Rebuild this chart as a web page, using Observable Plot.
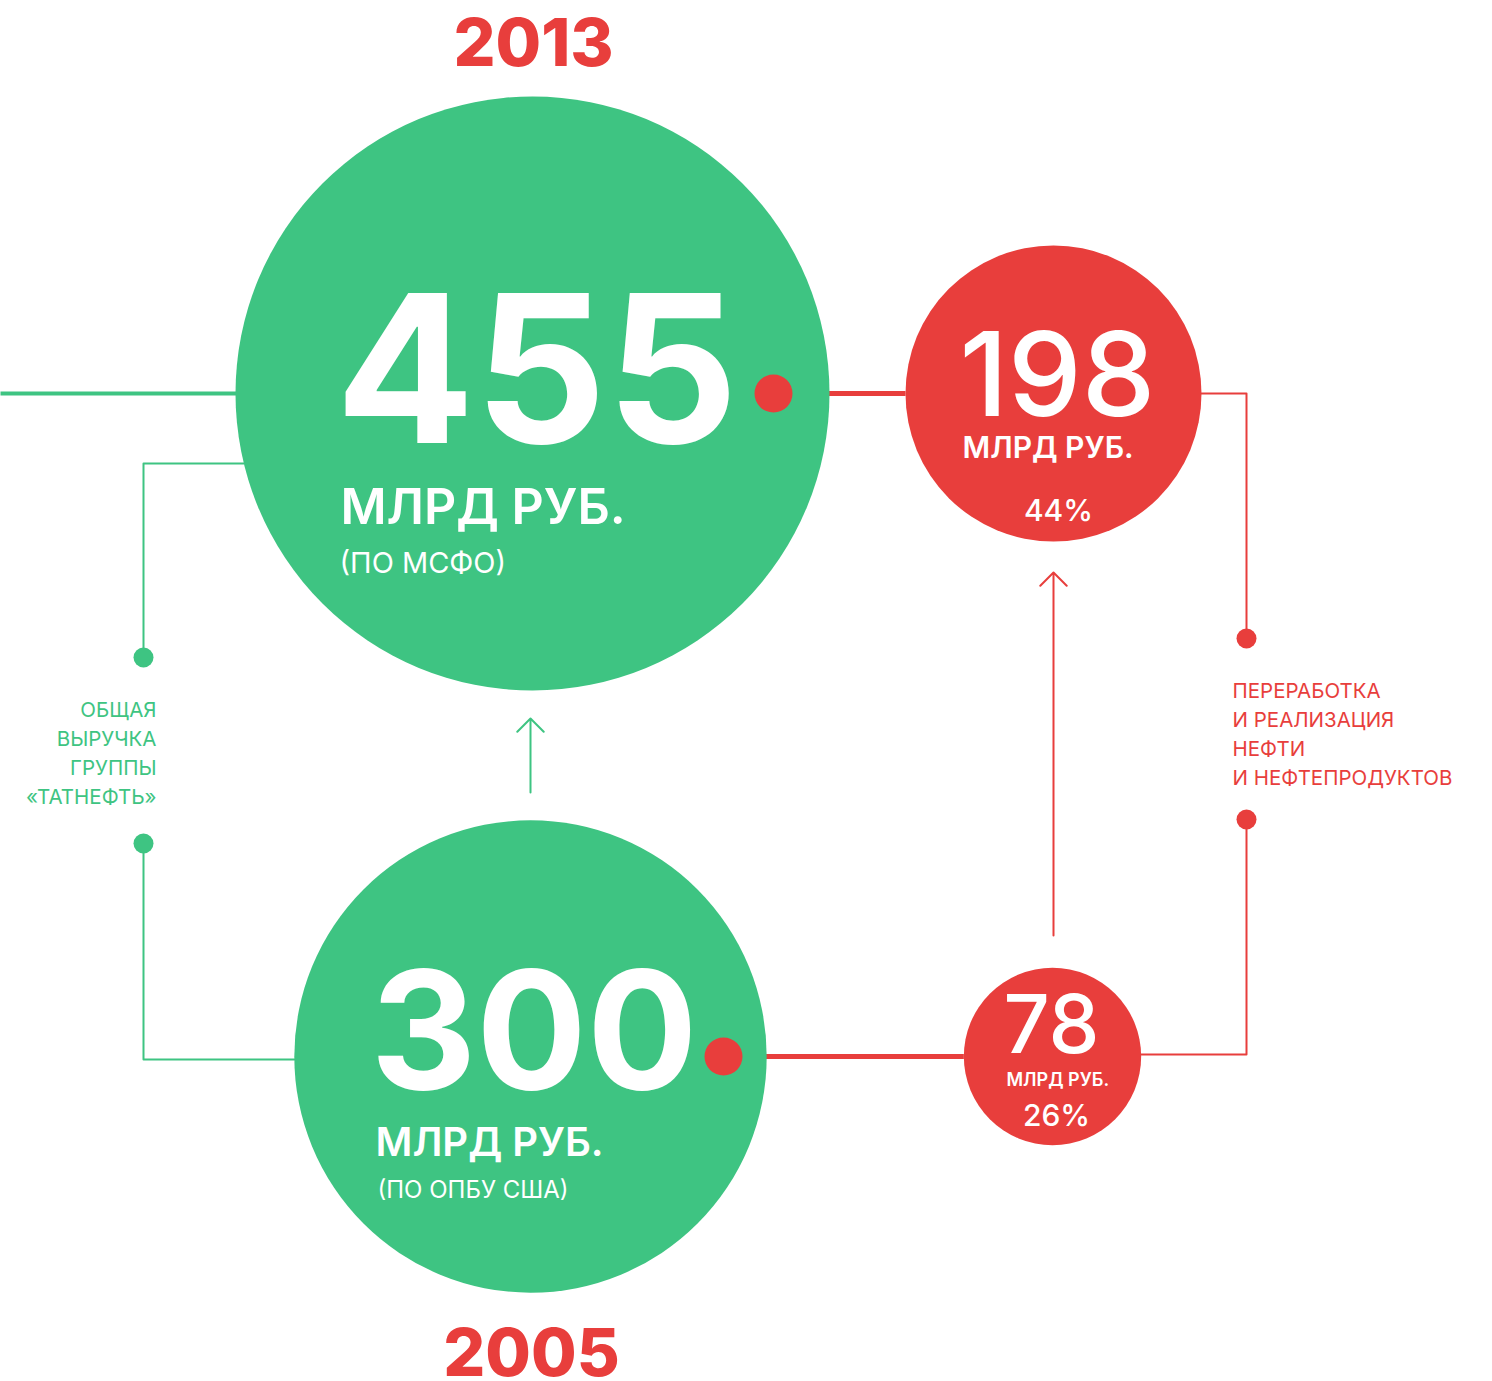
<!DOCTYPE html>
<html><head><meta charset="utf-8">
<script src="https://cdn.jsdelivr.net/npm/d3@7"></script>
<script src="https://cdn.jsdelivr.net/npm/@observablehq/plot@0.6"></script>
<style>
body{margin:0;background:#fff;}
#chart svg{display:block;}
</style></head>
<body><div id="chart"></div>
<script>
// ---- data ----
const years = ["2013", "2005"];
const totalRevenue = [455, 300];            // млрд руб.
const refiningRevenue = [198, 78];          // млрд руб.
const refiningShare = ["44%", "26%"];
const standards = ["(ПО МСФО)", "(ПО ОПБУ США)"];
const unitLabel = "МЛРД РУБ.";
const greenLabel = ["ОБЩАЯ", "ВЫРУЧКА", "ГРУППЫ", "«ТАТНЕФТЬ»"];
const redLabel = ["ПЕРЕРАБОТКА", "И РЕАЛИЗАЦИЯ", "НЕФТИ", "И НЕФТЕПРОДУКТОВ"];

// ---- layout (pixel frame) ----
const W = 1492, H = 1381;
const GREEN = "#3ec482", RED = "#e83e3c";
const FONT = "Inter, 'Liberation Sans', sans-serif";
const layout = {
  rowY: [393, 1056],      // 2013 row, 2005 row
  greenX: [532, 530],
  redX: [1053, 1052],
  yearY: [65, 1375],
  dotDx: [241, 193]
};
const rGreen = d3.scalePow().exponent(0.55).domain([0, 455]).range([0, 297]);
const rRed = d3.scalePow().exponent(0.55).domain([0, 198]).range([0, 148]);

const green = totalRevenue.map((v, i) => ({v, year: years[i], x: layout.greenX[i], y: layout.rowY[i], r: rGreen(v)}));
const red = refiningRevenue.map((v, i) => ({v, share: refiningShare[i], x: layout.redX[i], y: layout.rowY[i], r: rRed(v)}));

const g0 = green[0], g1 = green[1], r0 = red[0], r1 = red[1];
const edgeX = (c, y, side) => c.x + side * Math.sqrt(c.r * c.r - (y - c.y) ** 2);

// connectors
const bx = 143, rx = 1246;
const greenTop = [{x: edgeX(g0, 463, -1), y: 463}, {x: bx, y: 463}, {x: bx, y: 657}];
const greenBot = [{x: bx, y: 843}, {x: bx, y: 1059}, {x: edgeX(g1, 1059, -1), y: 1059}];
const redTop = [{x: r0.x + r0.r, y: r0.y}, {x: rx, y: r0.y}, {x: rx, y: 638}];
const redBot = [{x: rx, y: 819}, {x: rx, y: 1054}, {x: r1.x + r1.r, y: 1054}];
const smallDots = [
  {x: bx, y: 657, c: GREEN}, {x: bx, y: 843, c: GREEN},
  {x: rx, y: 638, c: RED}, {x: rx, y: 819, c: RED}
];
const bigDots = green.map((g, i) => ({x: g.x + layout.dotDx[i], y: g.y}));
const redLinks = green.map((g, i) => ({x1: g.x + layout.dotDx[i], x2: red[i].x - red[i].r, y: g.y}));

const chart = Plot.plot({
  width: W, height: H,
  margin: 0,
  x: {domain: [0, W], range: [0, W], axis: null},
  y: {domain: [0, H], range: [0, H], axis: null},
  r: {type: "identity"},
  marks: [
    Plot.link([g0], {x1: 0, x2: d => d.x, y1: d => d.y, y2: d => d.y, stroke: GREEN, strokeWidth: 4}),
    Plot.link(redLinks, {x1: "x1", x2: "x2", y1: "y", y2: "y", stroke: RED, strokeWidth: 5}),
    Plot.line(greenTop, {x: "x", y: "y", stroke: GREEN, strokeWidth: 2}),
    Plot.line(greenBot, {x: "x", y: "y", stroke: GREEN, strokeWidth: 2}),
    Plot.line(redTop, {x: "x", y: "y", stroke: RED, strokeWidth: 2}),
    Plot.line(redBot, {x: "x", y: "y", stroke: RED, strokeWidth: 2}),
    Plot.dot(green, {x: "x", y: "y", r: "r", fill: GREEN}),
    Plot.dot(red, {x: "x", y: "y", r: "r", fill: RED}),
    Plot.dot(bigDots, {x: "x", y: "y", r: 19, fill: RED}),
    Plot.dot(smallDots, {x: "x", y: "y", r: 10, fill: "c"}),
    Plot.arrow([{x: g1.x, y1: 792, y2: 718}], {x: "x", y1: "y1", y2: "y2", stroke: GREEN, strokeWidth: 2, headLength: 14, headAngle: 90}),
    Plot.arrow([{x: r0.x, y1: 935, y2: 572}], {x: "x", y1: "y1", y2: "y2", stroke: RED, strokeWidth: 2, headLength: 14, headAngle: 90}),
    // years
    Plot.text(green, {x: d => d.x + 1, y: (d, i) => layout.yearY[i], text: "year", fill: RED, fontSize: 66, fontWeight: 800, fontFamily: FONT, lineAnchor: "bottom", textAnchor: "middle", letterSpacing: "0.01em"}),
    // green circle texts
    Plot.text(green, {x: (d, i) => d.x - [197, 160][i], y: (d, i) => [442, 1088][i], text: d => String(d.v), fill: "white", fontSize: (d, i) => [206, 164][i], fontWeight: 700, fontFamily: FONT, lineAnchor: "bottom", textAnchor: "start", letterSpacing: (d, i) => ["-0.035em", "-0.1em"][i]}),
    Plot.text(green, {x: (d, i) => d.x - [192, 155][i], y: (d, i) => [523, 1155][i], text: () => unitLabel, fill: "white", fontSize: (d, i) => [50, 40][i], fontWeight: 600, fontFamily: FONT, lineAnchor: "bottom", textAnchor: "start", letterSpacing: "-0.078em"}),
    Plot.text(green, {x: (d, i) => d.x - [193, 153][i], y: (d, i) => [572, 1197][i], text: (d, i) => standards[i], fill: "white", fontSize: (d, i) => [29, 24][i], fontWeight: 400, fontFamily: FONT, lineAnchor: "bottom", textAnchor: "start", letterSpacing: "-0.01em"}),
    // red circle texts
    Plot.text(red, {x: (d, i) => d.x + [4, -1][i], y: (d, i) => [415, 1052][i], text: d => String(d.v), fill: "white", fontSize: (d, i) => [117, 81][i], fontWeight: 500, fontFamily: FONT, lineAnchor: "bottom", textAnchor: "middle", letterSpacing: "-0.05em"}),
    Plot.text(red, {x: (d, i) => d.x - [91, 46][i], y: (d, i) => [457, 1085][i], text: () => unitLabel, fill: "white", fontSize: (d, i) => [30, 18][i], fontWeight: 600, fontFamily: FONT, lineAnchor: "bottom", textAnchor: "start", letterSpacing: "-0.085em"}),
    Plot.text(red, {x: (d, i) => d.x + [5, 4][i], y: (d, i) => [520, 1125][i], text: "share", fill: "white", fontSize: 30, fontWeight: 500, fontFamily: FONT, lineAnchor: "bottom", textAnchor: "middle", letterSpacing: "-0.04em"}),
    // side labels
    Plot.text(greenLabel, {x: 156, y: (d, i) => 716 + i * 29, text: d => d, fill: GREEN, fontSize: 20.5, fontFamily: FONT, lineAnchor: "bottom", textAnchor: "end"}),
    Plot.text(redLabel, {x: 1232, y: (d, i) => 697 + i * 29, text: d => d, fill: RED, fontSize: 20.5, fontFamily: FONT, lineAnchor: "bottom", textAnchor: "start", letterSpacing: "0.01em"})
  ]
});
document.getElementById("chart").append(chart);
</script></body></html>
